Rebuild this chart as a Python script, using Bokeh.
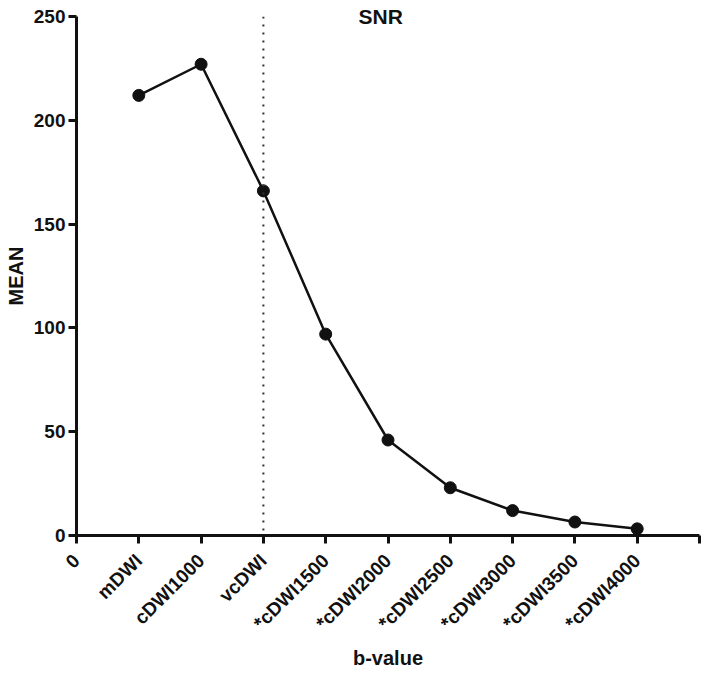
import math
from bokeh.plotting import figure
from bokeh.models import FixedTicker, Span, Range1d
from bokeh.embed import file_html
from bokeh.resources import INLINE

# ---- data ----
categories = ["mDWI", "cDWI1000", "vcDWI", "*cDWI1500", "*cDWI2000",
              "*cDWI2500", "*cDWI3000", "*cDWI3500", "*cDWI4000"]
mean_snr = [212, 227, 166, 97, 46, 23, 12, 6.5, 3.2]
y_ticks = [0, 50, 100, 150, 200, 250]
title_text = "SNR"
x_title = "b-value"
y_title = "MEAN"
divider_category = "vcDWI"

x_pos = list(range(1, len(categories) + 1))
x_ticks = list(range(0, len(categories) + 2))
x_tick_labels = ["0"] + categories + [""]

FONT = "Liberation Sans"

p = figure(frame_width=623, frame_height=519,
           x_range=Range1d(x_ticks[0], x_ticks[-1]),
           y_range=Range1d(y_ticks[0], y_ticks[-1]),
           output_backend="svg", toolbar_location=None,
           min_border_left=76, min_border_top=16, min_border_right=5,
           min_border_bottom=10, title=title_text)
p.outline_line_color = None
p.xgrid.visible = False
p.ygrid.visible = False
p.background_fill_color = "white"
p.border_fill_color = "white"

p.title.align = "left"
p.title.text_font = FONT
p.title.text_font_style = "bold"
p.title.text_font_size = "21px"
p.title.text_color = "#111111"
p.title.standoff = -22
p.title.offset = 282

for ax in (p.xaxis[0], p.yaxis[0]):
    ax.axis_line_width = 3
    ax.axis_line_color = "#111111"
    ax.major_tick_line_width = 3
    ax.major_tick_line_color = "#111111"
    ax.major_tick_out = 8
    ax.major_tick_in = 0
    ax.minor_tick_line_color = None
    ax.major_label_text_font = FONT
    ax.major_label_text_font_style = "bold"
    ax.major_label_text_font_size = "19px"
    ax.major_label_text_color = "#111111"
    ax.axis_label_text_font = FONT
    ax.axis_label_text_font_style = "bold"
    ax.axis_label_text_font_size = "20px"
    ax.axis_label_text_color = "#111111"

p.xaxis.ticker = FixedTicker(ticks=x_ticks)
p.xaxis.major_label_overrides = {t: lab for t, lab in zip(x_ticks, x_tick_labels)}
p.xaxis.major_label_orientation = math.pi / 4
p.xaxis.major_label_standoff = 14
p.xaxis.axis_label = x_title
p.xaxis.axis_label_standoff = 3

p.yaxis.ticker = FixedTicker(ticks=y_ticks)
p.yaxis.major_label_standoff = 3
p.yaxis.axis_label = y_title
p.yaxis.axis_label_standoff = 4

# dotted divider
div_x = x_pos[categories.index(divider_category)]
p.add_layout(Span(location=div_x, dimension="height", line_color="#333333",
                  line_width=2, line_dash="2 6"))

p.line(x_pos, mean_snr, line_color="#111111", line_width=2.5)
p.scatter(x_pos, mean_snr, size=12, fill_color="#111111", line_color="#111111")

open("out.html", "w").write(file_html(p, INLINE))
